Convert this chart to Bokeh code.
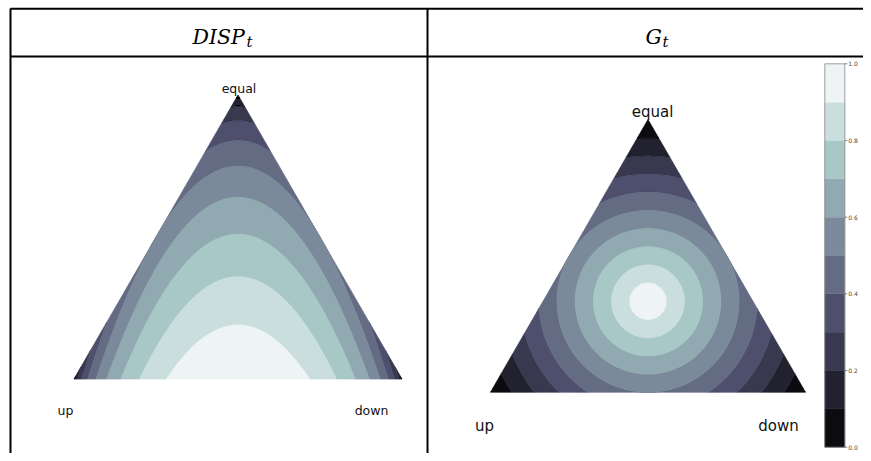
import numpy as np
from bokeh.plotting import figure
from bokeh.plotting.contour import contour_data
from bokeh.models import Range1d
from bokeh.embed import file_html
from bokeh.resources import INLINE
from bokeh.core.properties import value

# ---------------- data ----------------
levels = [0.0, 0.1, 0.2, 0.3, 0.4, 0.5, 0.6, 0.7, 0.8, 0.9, 1.0]
# matplotlib "bone" colormap sampled at the band midpoints
bone_palette = ["#0b0b10", "#21212f", "#38384e", "#4e4e6d", "#646c84",
                "#7b8a9b", "#91a9b1", "#a8c7c7", "#cbdede", "#eef4f4"]
cbar_ticks = [0.0, 0.2, 0.4, 0.6, 0.8, 1.0]
cbar_tick_labels = ["0.0", "0.2", "0.4", "0.6", "0.8", "1.0"]
corner_names = ["up", "down", "equal"]
panel_titles = ["DISP", "G"]
title_subscript = "t"


def disp_field(u, d, e):
    # dispersion of +1 / -1 / 0 outcomes with shares up / down / equal
    var = u + d - (u - d) ** 2
    return np.sqrt(np.clip(var, 0, None))


def g_field(u, d, e):
    dev = (u - 1/3) ** 2 + (d - 1/3) ** 2 + (e - 1/3) ** 2
    return 1.0 - np.sqrt(1.5 * dev)


# ---------------- layout (image pixels) ----------------
W, H = 863, 453
p = figure(width=W, height=H, x_range=Range1d(0, W), y_range=Range1d(H, 0),
           output_backend="svg", toolbar_location=None, min_border=0,
           x_axis_location=None, y_axis_location=None)
p.grid.visible = False
p.outline_line_color = None
p.background_fill_color = "white"
p.border_fill_color = "white"


def tri_grid(U, D, E, n=321):
    s = np.linspace(0, 1, n)
    t = np.linspace(0, 1, n)
    S, T = np.meshgrid(s, t)
    u = (1 - T) * (1 - S)
    d = (1 - T) * S
    e = T
    X = u * U[0] + d * D[0] + e * E[0]
    Y = u * U[1] + d * D[1] + e * E[1]
    return X, Y, u, d, e


panels = [
    dict(U=(73.5, 378.5), D=(401.5, 378.5), E=(237.5, 94.5), f=disp_field,
         lab_size="12.5px", lab_pos=[(65, 410), (371, 410), (238.5, 88)]),
    dict(U=(490.0, 391.7), D=(805.0, 391.7), E=(647.5, 119.0), f=g_field,
         lab_size="15px", lab_pos=[(484, 425), (778, 425), (652, 111.3)]),
]

for pan in panels:
    X, Y, u, d, e = tri_grid(pan["U"], pan["D"], pan["E"])
    Z = np.clip(pan["f"](u, d, e), 1e-6, 1 - 1e-6)
    cd = contour_data(X, Y, Z, levels, want_fill=True, want_line=False)
    fd = cd.fill_data
    idx = np.searchsorted(np.asarray(levels), np.asarray(fd.lower_levels) + 1e-9) - 1
    colors = [bone_palette[int(i)] for i in idx]
    p.multi_polygons(xs=fd.xs, ys=fd.ys, fill_color=colors, line_color=colors,
                     line_width=0.8, line_join="round")
    xs = [q[0] for q in pan["lab_pos"]]
    ys = [q[1] for q in pan["lab_pos"]]
    p.text(x=xs, y=ys, text=corner_names, text_align="center",
           text_baseline="alphabetic", text_font=value("DejaVu Sans"),
           text_font_size=pan["lab_size"], text_color="#111111")

# colour bar for the right panel
cb_left, cb_right, cb_bot, cb_top = 824.3, 844.3, 446.7, 63.3


def cb_y(v):
    return cb_bot - v * (cb_bot - cb_top)


p.quad(left=cb_left, right=cb_right,
       bottom=[cb_y(v) for v in levels[:-1]], top=[cb_y(v) for v in levels[1:]],
       fill_color=bone_palette, line_color=bone_palette, line_width=0.5)
p.rect(x=(cb_left + cb_right) / 2, y=(cb_top + cb_bot) / 2,
       width=cb_right - cb_left, height=cb_bot - cb_top,
       fill_color=None, line_color="#8a8a8a", line_width=0.8)
tick_y = [cb_y(v) for v in cbar_ticks]
p.segment(x0=cb_right, x1=cb_right + 2.5, y0=tick_y, y1=tick_y,
          line_color="#555555", line_width=0.7)
p.text(x=cb_right + 3.5, y=tick_y, text=cbar_tick_labels, text_baseline="middle",
       text_align="left", text_font=value("DejaVu Sans"), text_font_size="6px",
       text_color="#444444")

# table frame
p.segment(x0=[10, 427, 10, 10], x1=[10, 427, W, W],
          y0=[8, 8, 8.3, 56], y1=[H, H, 8.3, 56],
          line_color="black", line_width=2)

# header titles (math italic with subscript)
p.text(x=[192, 645], y=[36.5, 36.5], text=panel_titles, text_align="left",
       text_baseline="alphabetic", text_font=value("DejaVu Serif"),
       text_font_style="italic", text_font_size="20.5px", text_color="black")
p.text(x=[246, 662], y=[41.5, 41.5], text=[title_subscript, title_subscript],
       text_align="left", text_baseline="alphabetic", text_font=value("DejaVu Serif"),
       text_font_style="italic", text_font_size="15px", text_color="black")

open("out.html", "w").write(file_html(p, INLINE))
